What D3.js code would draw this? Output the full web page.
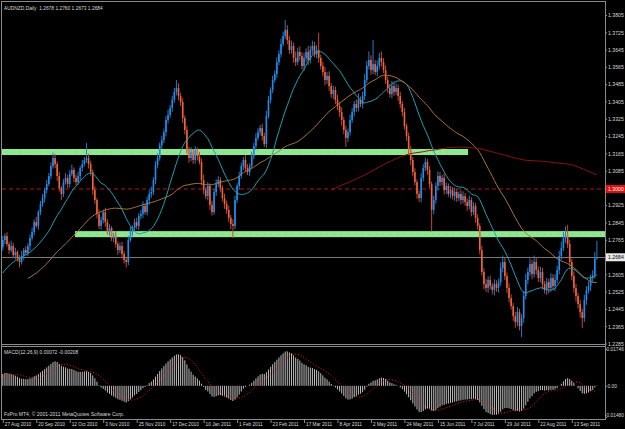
<!DOCTYPE html>
<html><head><meta charset="utf-8">
<script src="https://cdn.jsdelivr.net/npm/d3@7"></script>
<style>html,body{margin:0;padding:0;background:#000;overflow:hidden}svg{display:block}</style>
</head><body><svg id="c" width="625" height="429"></svg>
<script>
// ---------- DATA ----------
const symbolTitle = "AUDNZD,Daily  1.2678 1.2760 1.2673 1.2684";
const macdTitle = "MACD(12,26,9) 0.00072 -0.00208";
const copyright = "FxPro MT4, \u00A9 2001-2011 MetaQuotes Software Corp.";
const dateLabels = ["27 Aug 2010","20 Sep 2010","12 Oct 2010","3 Nov 2010","25 Nov 2010","17 Dec 2010","10 Jan 2011","1 Feb 2011","23 Feb 2011","17 Mar 2011","8 Apr 2011","2 May 2011","24 May 2011","15 Jun 2011","7 Jul 2011","29 Jul 2011","22 Aug 2011","13 Sep 2011"];
const dateLabelBars = [0,16,32,48,64,80,96,112,128,144,160,176,192,208,224,240,256,272];
const priceTicks = [1.2285,1.2365,1.2445,1.2525,1.2605,1.2765,1.2845,1.2925,1.3085,1.3165,1.3245,1.3325,1.3405,1.3485,1.3565,1.3645,1.3725,1.3805];
const macdTicks = [0.01746, 0, -0.01480];
const macdTickLabels = ["0.01746", "0.00", "-0.01480"];
const currentPrice = 1.2684;
const dashedLevel = 1.3000;
const dashedLevelLabel = "1.3000";
// price = 1.2 + pips/10000
const pipBase = 1.2;
// closes of the 42 daily bars loaded before the first visible bar (MA warm-up)
const prehistoryCloses = [470,455,475,490,480,465,470,490,500,485,475,495,510,500,490,505,520,510,495,505,520,530,515,505,520,
  530,545,560,550,570,590,580,605,625,615,640,660,650,680,700,695,730];
const closes = [
  764,782,745,717,736,694,708,680,662,690,717,704,736,773,801,
  847,829,893,930,958,995,1023,1060,1106,1143,1115,1060,1004,977,1032,
  1051,1023,1069,1088,1051,1032,1060,1097,1115,1134,1143,1115,1078,995,949,
  884,829,856,893,847,801,819,773,782,745,717,736,699,671,662,
  764,801,819,847,829,875,884,921,893,949,977,986,1041,1111,1143,
  1203,1226,1263,1319,1342,1375,1412,1449,1467,1430,1402,1328,1273,1180,1143,
  1171,1134,1180,1152,1125,1041,995,967,1014,926,893,986,1023,1041,1004,
  958,930,903,866,838,829,949,1014,1060,1106,1134,1097,1078,1106,1152,
  1199,1236,1263,1282,1245,1208,1338,1412,1458,1504,1532,1587,1624,1671,1708,
  1736,1689,1643,1662,1606,1587,1634,1615,1569,1606,1634,1597,1643,1662,1624,
  1643,1606,1569,1541,1504,1523,1476,1439,1458,1412,1384,1356,1319,1273,1236,
  1263,1319,1356,1393,1375,1412,1393,1430,1504,1569,1597,1550,1578,1541,1569,
  1606,1587,1550,1504,1467,1439,1476,1449,1467,1430,1393,1356,1291,1245,1180,
  1134,1078,1032,977,958,1051,1097,1125,1088,1023,903,949,1014,1060,1032,
  1051,995,1014,977,995,967,986,958,977,949,967,940,921,949,893,
  921,866,829,717,616,560,542,579,551,532,560,542,569,634,662,
  597,542,495,458,412,384,430,366,403,505,579,616,653,606,662,
  625,588,616,560,532,569,542,588,551,579,625,690,727,773,791,
  745,662,597,542,505,467,430,403,486,532,551,588,600,678,684];
const wickUp = [
  20,12,18,10,25,15,20,8,14,22,10,18,12,16,20,
  12,24,10,15,18,12,20,14,16,25,18,12,20,10,15,
  22,14,18,25,12,16,20,10,18,14,70,20,15,12,18,
  10,22,16,12,20,14,18,10,15,22,12,16,20,14,10,
  18,24,12,16,20,14,18,22,12,16,20,25,14,18,22,
  12,20,16,18,24,14,20,18,37,22,15,18,12,20,16,
  22,14,18,12,20,16,25,14,18,12,20,15,22,18,14,
  12,20,16,18,14,22,18,12,20,16,14,22,18,12,20,
  16,22,18,14,20,16,24,18,12,20,16,22,18,25,20,
  46,22,18,24,16,30,20,26,18,22,16,28,20,24,18,
  22,80,16,20,24,18,22,14,20,16,24,18,22,14,20,
  16,24,18,14,22,30,16,20,28,24,40,22,111,18,26,
  24,30,18,22,16,20,24,18,22,16,20,14,18,12,16,
  20,14,18,12,16,22,18,20,14,18,12,20,16,22,18,
  14,20,16,12,18,14,20,16,12,18,22,14,16,20,12,
  18,14,16,12,20,18,24,16,20,14,22,18,16,26,30,
  20,16,22,18,14,20,24,16,18,22,28,20,26,18,30,
  22,16,24,18,14,20,16,22,18,26,20,24,30,28,36,
  42,20,16,22,18,14,20,16,24,18,22,16,24,30,76];
const wickDown = [
  15,20,12,18,10,14,20,16,25,12,18,10,14,20,12,
  16,10,18,14,12,20,16,10,14,12,18,22,16,28,14,
  12,18,16,10,20,14,12,18,16,10,14,20,16,22,18,
  20,14,18,16,22,12,18,14,20,16,22,14,18,16,25,
  14,10,18,12,16,20,14,18,12,16,22,18,14,20,16,
  12,18,14,20,16,12,18,14,16,20,18,24,20,16,22,
  14,18,16,20,12,22,18,14,20,24,16,12,18,14,20,
  16,22,18,20,24,56,16,14,18,12,20,16,14,18,12,
  14,18,12,16,20,14,18,12,16,14,12,18,14,16,12,
  14,20,18,16,22,18,14,20,16,22,18,24,16,20,14,
  18,22,16,20,24,18,22,16,24,20,18,22,26,20,42,
  18,16,14,20,18,16,14,20,18,14,16,22,18,14,20,
  16,20,14,18,22,16,20,18,14,22,18,20,16,22,18,
  24,20,16,22,18,20,16,14,22,18,100,20,16,22,18,
  16,20,18,14,20,16,22,18,14,20,16,18,22,16,20,
  14,22,18,20,16,24,18,22,16,20,24,18,22,16,20,
  18,24,20,16,22,26,18,20,51,22,16,20,18,24,16,
  22,18,20,24,16,22,26,18,20,24,16,20,18,14,22,
  18,24,20,22,26,20,24,47,18,22,16,24,20,14,5];
// horizontal zones drawn by the trader (price range, bar range)
const zones = [
  {lo:1.3157, hi:1.3185, fromBar:-2, toBar:222.4},
  {lo:1.2777, hi:1.2805, fromBar:34.5, toBar:300}
];
const maPeriods = [21, 55, 200];
const maColors = ["#1c9fb3", "#a8743a", "#8e1414"];

// ---------- CHART ----------
const svg = d3.select("#c");
const W = 625, H = 429;
const L = 2, R = 605, T = 2, MB = 344.5, ST = 347, SB = 419;
svg.append("rect").attr("width",W).attr("height",H).attr("fill","#000");

const x = d3.scaleLinear().domain([0, 284]).range([2.8, 596.9]);
const y = d3.scaleLinear().domain([1.2285, 1.3805]).range([343.5, 15]);
const ym = d3.scaleLinear().domain([-0.0148, 0.01746]).range([417, 349]);
const P = prehistoryCloses.length;
const full = prehistoryCloses.concat(closes).map(v => pipBase + v/10000);
const px = v => pipBase + v/10000;

const defs = svg.append("defs");
defs.append("clipPath").attr("id","mainClip").append("rect").attr("x",L).attr("y",T).attr("width",R-L).attr("height",MB-T);
defs.append("clipPath").attr("id","subClip").append("rect").attr("x",L).attr("y",ST).attr("width",R-L).attr("height",SB-ST);

const main = svg.append("g").attr("clip-path","url(#mainClip)");

// zones
main.selectAll("rect.zone").data(zones).join("rect")
  .attr("x", d => x(d.fromBar)).attr("width", d => x(d.toBar)-x(d.fromBar))
  .attr("y", d => y(d.hi)).attr("height", d => y(d.lo)-y(d.hi))
  .attr("fill", "#8fe88f");
main.selectAll("line.zc").data(zones).join("line")
  .attr("x1", d => x(d.fromBar)).attr("x2", d => x(d.toBar))
  .attr("y1", d => (y(d.hi)+y(d.lo))/2).attr("y2", d => (y(d.hi)+y(d.lo))/2)
  .attr("stroke","#6cc46c").attr("stroke-width",0.6).attr("stroke-dasharray","1,6");

// dashed level & current price line
main.append("line").attr("x1",L).attr("x2",R).attr("y1",y(dashedLevel)).attr("y2",y(dashedLevel))
  .attr("stroke","#b01818").attr("stroke-width",1).attr("stroke-dasharray","4,3");
main.append("line").attr("x1",L).attr("x2",R).attr("y1",Math.round(y(currentPrice))+0.5).attr("y2",Math.round(y(currentPrice))+0.5)
  .attr("stroke","#7a7a7a").attr("stroke-width",1);

// candles
const bars = closes.map((c, i) => {
  const o = i === 0 ? prehistoryCloses[P-1] : closes[i-1];
  const hi = Math.max(o, c) + wickUp[i], lo = Math.min(o, c) - wickDown[i];
  return {i, o: px(o), c: px(c), h: px(hi), l: px(lo), up: c >= o};
});
main.selectAll("line.wick").data(bars).join("line")
  .attr("x1", d => x(d.i)).attr("x2", d => x(d.i))
  .attr("y1", d => y(d.h)).attr("y2", d => y(d.l))
  .attr("stroke", d => d.up ? "#2a78c8" : "#c2482c").attr("stroke-width", 1);
main.selectAll("rect.body").data(bars).join("rect")
  .attr("x", d => x(d.i)-0.8).attr("width", 1.6)
  .attr("y", d => y(Math.max(d.o,d.c)))
  .attr("height", d => Math.max(1, Math.abs(y(d.o)-y(d.c))))
  .attr("fill", d => d.up ? "#1e8ff0" : "#f4623c");

// moving averages
function sma(arr, n) {
  return arr.map((v, i) => i < n-1 ? null : d3.mean(arr.slice(i-n+1, i+1)));
}
maPeriods.forEach((n, k) => {
  const m = sma(full, n);
  const pts = closes.map((_, i) => [i, m[i+P]]).filter(p => p[1] !== null);
  main.append("path").datum(pts)
    .attr("d", d3.line().x(p => x(p[0])).y(p => y(p[1])))
    .attr("fill","none").attr("stroke", maColors[k]).attr("stroke-width", 1);
});

// MACD
function ema(arr, n) {
  const a = 2/(n+1); const out = []; let e = arr[0];
  arr.forEach((v,i) => { e = i === 0 ? v : e + a*(v-e); out.push(e); });
  return out;
}
const e12 = ema(full, 12), e26 = ema(full, 26);
const macdMain = full.map((_, i) => e12[i] - e26[i]);
const macdSig = sma(macdMain, 9);
const sub = svg.append("g").attr("clip-path","url(#subClip)");
sub.selectAll("rect.h").data(closes.map((_, i) => ({i, v: macdMain[i+P]}))).join("rect")
  .attr("x", d => x(d.i)-0.5).attr("width", 1)
  .attr("y", d => Math.min(ym(0), ym(d.v))).attr("height", d => Math.abs(ym(d.v)-ym(0)))
  .attr("fill", "#bdbdbd");
sub.append("path").datum(closes.map((_, i) => [i, macdSig[i+P]]))
  .attr("d", d3.line().x(p => x(p[0])).y(p => ym(p[1])))
  .attr("fill","none").attr("stroke","#ff1a1a").attr("stroke-width",1).attr("stroke-dasharray","1,2");

// frame
const fr = svg.append("g").attr("stroke","#8a8a8a").attr("stroke-width",1).attr("fill","none");
fr.append("rect").attr("x",L-0.5).attr("y",T-0.5).attr("width",R-L+1).attr("height",SB-T+1);
fr.append("line").attr("x1",L).attr("x2",R).attr("y1",MB).attr("y2",MB);
fr.append("line").attr("x1",L).attr("x2",R).attr("y1",ST-0.5).attr("y2",ST-0.5);

// text style
const FONT = "Liberation Sans, Arial, sans-serif";
const FS = 5.6;
const txtColor = "#d8d8d8";
function squeeze(sel, f) {
  sel.each(function() {
    const w = this.getComputedTextLength();
    d3.select(this).attr("textLength", w*f).attr("lengthAdjust","spacingAndGlyphs");
  });
}

// price axis
const pa = svg.append("g").attr("transform", `translate(${R},0)`)
  .call(d3.axisRight(y).tickValues(priceTicks).tickSize(2).tickFormat(d3.format(".4f")));
pa.select(".domain").remove();
pa.selectAll("line").attr("stroke","#8a8a8a");
pa.selectAll("text").attr("fill",txtColor).attr("font-family",FONT).attr("font-size",FS).attr("x",3);
squeeze(pa.selectAll("text"), 0.92);

// dashed level label (red box) and current price label (white box)
function boxLabel(val, text, fill, color) {
  const yy = y(val);
  svg.append("rect").attr("x",R+1).attr("y",yy-4).attr("width",19).attr("height",8).attr("fill",fill);
  const t = svg.append("text").attr("x",R+3).attr("y",yy).attr("dy","0.35em").text(text)
    .attr("fill",color).attr("font-family",FONT).attr("font-size",FS);
  squeeze(t, 0.92);
}
boxLabel(dashedLevel, dashedLevelLabel, "#e01010", "#ffffff");
boxLabel(currentPrice, currentPrice.toFixed(4), "#e8e8e8", "#000000");

// MACD axis
const ma = svg.append("g").attr("transform", `translate(${R},0)`)
  .call(d3.axisRight(ym).tickValues(macdTicks).tickSize(2).tickFormat((d,i) => macdTickLabels[i]));
ma.select(".domain").remove();
ma.selectAll("line").attr("stroke","#8a8a8a");
ma.selectAll("text").attr("fill",txtColor).attr("font-family",FONT).attr("font-size",4.8)
  .attr("x", (d,i) => i === 0 ? 1.5 : (i === 1 ? 2.5 : 0))
  .attr("dy", (d,i) => i === 2 ? "-0.05em" : "0.32em");

// date axis
const da = svg.append("g").attr("transform", `translate(0,${SB})`)
  .call(d3.axisBottom(x).tickValues(dateLabelBars).tickSize(4).tickFormat((d,i) => dateLabels[i]));
da.select(".domain").remove();
da.selectAll("line").attr("stroke","#8a8a8a");
da.selectAll("text").attr("fill",txtColor).attr("font-family",FONT).attr("font-size",FS)
  .attr("text-anchor","start").attr("x",1.5).attr("y",3.2).attr("dy","0.71em");
squeeze(da.selectAll("text"), 0.84);

// titles
const t1 = svg.append("text").attr("x",4).attr("y",10).text(symbolTitle)
  .attr("fill",txtColor).attr("font-family",FONT).attr("font-size",FS).attr("xml:space","preserve");
squeeze(t1, 0.87);
const t2 = svg.append("text").attr("x",4).attr("y",353.5).text(macdTitle)
  .attr("fill",txtColor).attr("font-family",FONT).attr("font-size",FS);
squeeze(t2, 0.88);
const t3 = svg.append("text").attr("x",4).attr("y",416).text(copyright)
  .attr("fill",txtColor).attr("font-family",FONT).attr("font-size",FS);
squeeze(t3, 0.9);
</script>
</body></html>
